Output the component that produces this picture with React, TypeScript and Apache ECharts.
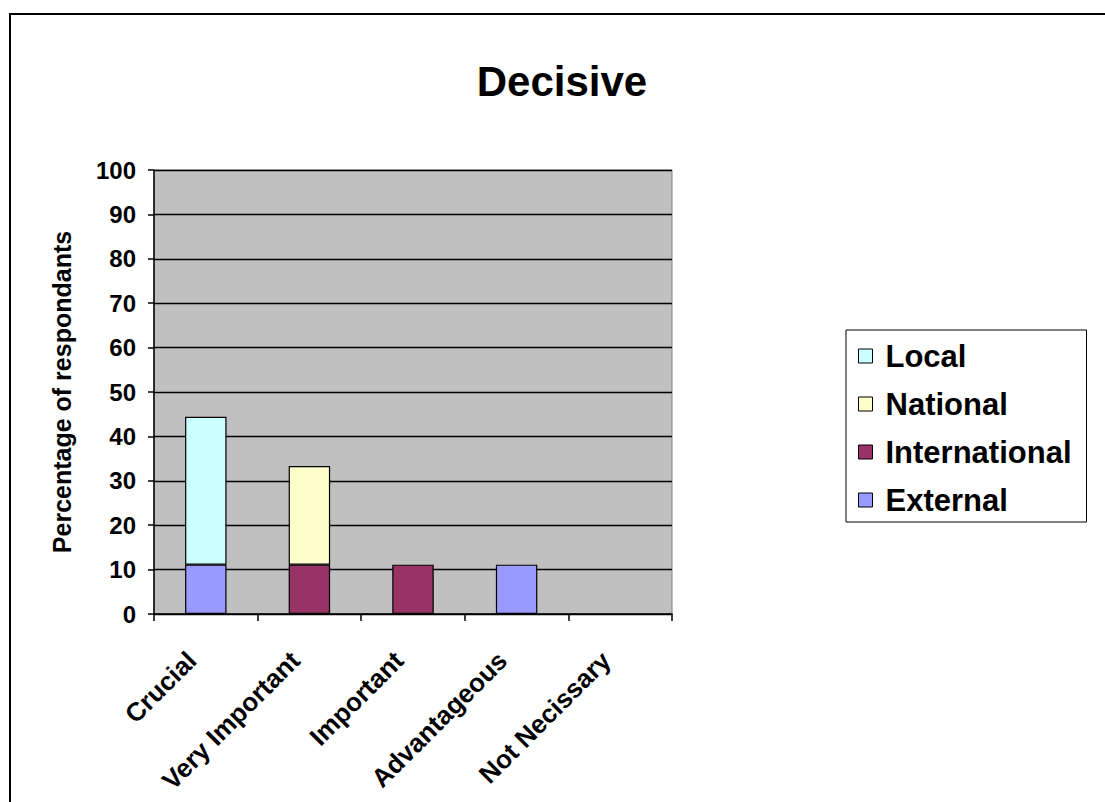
import React, { useEffect, useRef } from "react";
import * as echarts from "echarts";

// Importance ratings and the share of respondents (%) per source type
const categories = ["Crucial", "Very Important", "Important", "Advantageous", "Not Necissary"];
const externalValues = [11.11, null, null, 11.11, null];
const internationalValues = [null, 11.11, 11.11, null, null];
const nationalValues = [null, 22.22, null, null, null];
const localValues = [33.33, null, null, null, null];
const legendOrder = ["Local", "National", "International", "External"];

const FONT = "'Liberation Sans', Arial, Helvetica, sans-serif";

export default function App() {
  const ref = useRef<HTMLDivElement>(null);

  useEffect(() => {
    if (!ref.current) return;
    const chart = echarts.init(ref.current, undefined, { renderer: "svg" });

    const barBase = {
      type: "bar" as const,
      stack: "total",
      barWidth: "40%",
      itemStyle: { borderColor: "#000", borderWidth: 1.2 },
    };

    chart.setOption({
      animation: false,
      backgroundColor: "#fff",
      textStyle: { fontFamily: FONT },
      title: {
        text: "Decisive",
        left: 557,
        top: 55,
        textAlign: "center",
        textStyle: { fontFamily: FONT, fontSize: 42, fontWeight: "bold", color: "#000" },
      },
      graphic: [
        {
          type: "rect",
          shape: { x: 10, y: 14, width: 1120, height: 820 },
          style: { fill: "none", stroke: "#000", lineWidth: 2 },
          silent: true,
        },
      ],
      legend: {
        data: legendOrder,
        orient: "vertical",
        left: 846,
        top: 330,
        padding: [9, 15, 5, 12],
        itemGap: 14,
        itemWidth: 14,
        itemHeight: 14,
        backgroundColor: "#fff",
        borderColor: "#000",
        borderWidth: 1,
        borderRadius: 0,
        icon: "rect",
        itemStyle: { borderColor: "#000", borderWidth: 1 },
        textStyle: {
          fontFamily: FONT,
          fontSize: 31,
          fontWeight: "bold",
          color: "#000",
          lineHeight: 34,
          padding: [0, 0, 0, 8],
        },
      },
      grid: {
        left: 154,
        top: 170,
        width: 518,
        height: 444,
        show: true,
        backgroundColor: "#C0C0C0",
        borderColor: "#808080",
        borderWidth: 1,
      },
      xAxis: {
        type: "category",
        data: categories,
        boundaryGap: true,
        axisLine: { show: true, lineStyle: { color: "#000", width: 1.5 } },
        axisTick: { show: true, inside: false, length: 7, lineStyle: { color: "#000", width: 1.5 } },
        axisLabel: {
          rotate: 45,
          interval: 0,
          margin: 28,
          padding: [0, 20, 0, 0],
          fontFamily: FONT,
          fontSize: 26,
          fontWeight: "bold",
          color: "#000",
        },
      },
      yAxis: {
        type: "value",
        min: 0,
        max: 100,
        interval: 10,
        name: "Percentage of respondants",
        nameLocation: "middle",
        nameRotate: 90,
        nameGap: 80,
        nameTextStyle: { fontFamily: FONT, fontSize: 25, fontWeight: "bold", color: "#000" },
        axisLine: { show: true, lineStyle: { color: "#000", width: 1.5 } },
        axisTick: { show: true, inside: false, length: 6, lineStyle: { color: "#000", width: 1.5 } },
        axisLabel: {
          margin: 18,
          fontFamily: FONT,
          fontSize: 24,
          fontWeight: "bold",
          color: "#000",
        },
        splitLine: { show: true, lineStyle: { color: "#000", width: 1.3 } },
      },
      series: [
        { ...barBase, name: "External", data: externalValues, itemStyle: { ...barBase.itemStyle, color: "#9999FF" } },
        { ...barBase, name: "International", data: internationalValues, itemStyle: { ...barBase.itemStyle, color: "#993366" } },
        { ...barBase, name: "National", data: nationalValues, itemStyle: { ...barBase.itemStyle, color: "#FFFFCC" } },
        { ...barBase, name: "Local", data: localValues, itemStyle: { ...barBase.itemStyle, color: "#CCFFFF" } },
      ],
    });

    return () => chart.dispose();
  }, []);

  return (
    <div
      ref={ref}
      style={{ position: "absolute", left: 0, top: 0, width: 1105, height: 802, background: "#fff" }}
    />
  );
}
